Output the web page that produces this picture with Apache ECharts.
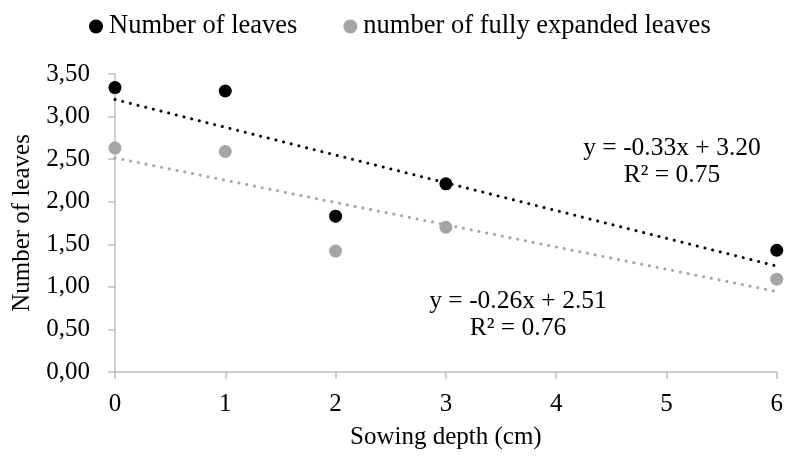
<!DOCTYPE html>
<html><head><meta charset="utf-8">
<script src="https://cdn.jsdelivr.net/npm/echarts@6/dist/echarts.min.js"></script>
<style>html,body{margin:0;padding:0;background:#fff}#c{width:786px;height:457px}</style>
</head><body><div id="c"></div>
<script>
var depths = [0, 1, 2, 3, 6];
var leaves = [3.34, 3.30, 1.83, 2.21, 1.43];
var expanded = [2.63, 2.59, 1.42, 1.70, 1.09];
var seriesNames = ['Number of leaves', 'number of fully expanded leaves'];
var trendSlope = [-0.326, -0.2615];
var trendIntercept = [3.200, 2.514];
var trendLabels = [['y = -0.33x + 3.20', 'R² = 0.75'], ['y = -0.26x + 2.51', 'R² = 0.76']];
var xRange = [0, 6];
var colors = ['#000000', '#a5a5a5'];

function pts(ys){ return depths.map(function(x,i){ return [x, ys[i]]; }); }
function trend(k){ return xRange.map(function(x){ return [x, trendIntercept[k] + trendSlope[k]*x]; }); }
var F = '"Liberation Serif", "Times New Roman", serif';
var FS = 25;
function txt(s, x, y){ return {type:'text', x:x, y:y, style:{text:s, font:'25.5px '+F, fill:'#000', textAlign:'center', textVerticalAlign:'middle'}}; }
var chart = echarts.init(document.getElementById('c'));
chart.setOption({
  animation:false,
  textStyle:{fontFamily:F},
  legend:{top:8, left:84, itemGap:46, itemWidth:14, itemHeight:14,
    textStyle:{fontFamily:F, fontSize:26.5, color:'#000', padding:[0,0,0,1]},
    data:[{name:seriesNames[0], icon:'circle'},{name:seriesNames[1], icon:'circle'}]},
  grid:{left:115, right:7, top:74, bottom:85},
  xAxis:{type:'value', min:0, max:6, interval:1, name:'Sowing depth (cm)', nameLocation:'middle', nameGap:53,
    nameTextStyle:{fontFamily:F, fontSize:FS, color:'#000'},
    axisLine:{lineStyle:{color:'#bfbfbf', width:1.5}}, axisTick:{show:true, length:7, lineStyle:{color:'#bfbfbf', width:1.5}},
    axisLabel:{fontFamily:F, fontSize:FS, color:'#000', margin:20}, splitLine:{show:false}},
  yAxis:{type:'value', min:0, max:3.5, interval:0.5, name:'Number of leaves', nameLocation:'middle', nameGap:77,
    nameTextStyle:{fontFamily:F, fontSize:FS, color:'#000'},
    axisLine:{show:true, lineStyle:{color:'#bfbfbf', width:1.5}}, axisTick:{show:true, length:7, lineStyle:{color:'#bfbfbf', width:1.5}},
    axisLabel:{fontFamily:F, fontSize:FS, color:'#000', margin:25, formatter:function(v){return v.toFixed(2).replace('.',',');}},
    splitLine:{show:false}},
  series:[
    {name:seriesNames[0]+' trend', type:'line', data:trend(0), symbol:'none', z:1,
      lineStyle:{color:colors[0], width:3, type:[0.1,7.8], cap:'round'}},
    {name:seriesNames[1]+' trend', type:'line', data:trend(1), symbol:'none', z:1,
      lineStyle:{color:colors[1], width:3, type:[0.1,7.8], cap:'round'}},
    {name:seriesNames[0], type:'scatter', data:pts(leaves), symbolSize:13, itemStyle:{color:colors[0], opacity:1}, z:3},
    {name:seriesNames[1], type:'scatter', data:pts(expanded), symbolSize:13, itemStyle:{color:colors[1], opacity:1}, z:3}
  ],
  graphic:[
    txt(trendLabels[0][0], 672, 148), txt(trendLabels[0][1], 672, 175),
    txt(trendLabels[1][0], 518, 301), txt(trendLabels[1][1], 518, 328)
  ]
});
</script></body></html>
